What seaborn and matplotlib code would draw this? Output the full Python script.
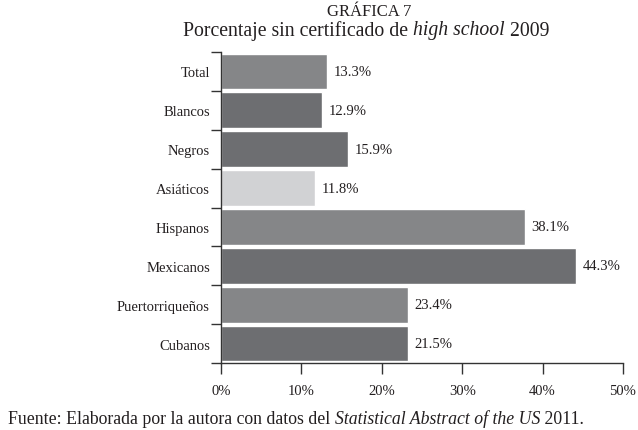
import matplotlib
matplotlib.use("Agg")
import matplotlib.pyplot as plt
import pandas as pd
import seaborn as sns

# Data
categories = ['Total', 'Blancos', 'Negros', 'Asiáticos', 'Hispanos',
              'Mexicanos', 'Puertorriqueños', 'Cubanos']
bar_values = [13.2, 12.6, 15.8, 11.7, 37.8, 44.2, 23.3, 23.3]
value_labels = ['13.3%', '12.9%', '15.9%', '11.8%', '38.1%', '44.3%', '23.4%', '21.5%']
bar_colors = ['#858688', '#6d6e71', '#6d6e71', '#d1d2d4',
              '#858688', '#6d6e71', '#858688', '#6d6e71']
x_ticks = [0, 10, 20, 30, 40, 50]

df = pd.DataFrame({'cat': categories, 'value': bar_values})

sns.set_theme(style='ticks')
plt.rcParams['font.family'] = ['Liberation Serif', 'DejaVu Serif']
text_color = '#231f20'
line_color = '#333333'

fig = plt.figure(figsize=(6.38, 4.31), dpi=100)
ax = fig.add_axes([221 / 638, 1 - 364 / 431, (623 - 221) / 638, (364 - 53) / 431])

sns.barplot(data=df, x='value', y='cat', hue='cat', orient='h',
            palette=dict(zip(categories, bar_colors)), width=0.92,
            legend=False, ax=ax, saturation=1)

ax.set_xlim(0, 50)
ax.set_ylim(len(categories) - 0.5, -0.5)
ax.set_xticks(x_ticks)
ax.set_xticklabels([f'{t}%' for t in x_ticks], fontsize=10.5, color=text_color)
ax.set_xlabel('')
ax.set_ylabel('')

# category names centred on bars, ticks at the boundaries between them
ax.set_yticks([i - 0.5 for i in range(len(categories) + 1)])
ax.set_yticklabels([])
ax.set_yticks(range(len(categories)), minor=True)
ax.set_yticklabels(categories, minor=True, fontsize=10.5, color=text_color)
ax.tick_params(axis='y', which='minor', length=0, pad=8)
ax.tick_params(axis='y', which='major', length=7, width=1, color=line_color)
ax.tick_params(axis='x', length=8, width=1, color=line_color, pad=7)

for s in ['top', 'right']:
    ax.spines[s].set_visible(False)
for s in ['left', 'bottom']:
    ax.spines[s].set_color(line_color)
    ax.spines[s].set_linewidth(1)

for i, (v, lab) in enumerate(zip(bar_values, value_labels)):
    ax.annotate(lab, (v, i), xytext=(4.5, 0), textcoords='offset points',
                va='center', ha='left', fontsize=10.5, color=text_color)


def draw_runs(y_px, runs, size, x_px=None, center=None):
    # draw a line of text made of several style runs (normal / italic)
    fig.canvas.draw()
    r = fig.canvas.get_renderer()
    W, H = fig.bbox.width, fig.bbox.height
    items, widths = [], []
    for txt, style in runs:
        t = fig.text(0, 1 - y_px / H, txt, fontsize=size, style=style,
                     va='center', ha='left', color=text_color)
        items.append(t)
        widths.append(t.get_window_extent(renderer=r).width)
    total = sum(widths)
    x = center - total / 2 if x_px is None else x_px
    for t, w in zip(items, widths):
        t.set_x(x / W)
        x += w


draw_runs(12, [('GRÁFICA 7', 'normal')], 12, center=369)
draw_runs(31, [('Porcentaje sin certificado de ', 'normal'),
               ('high school', 'italic'), (' 2009', 'normal')], 14.2, center=366)
draw_runs(419, [('Fuente: Elaborada por la autora con datos del ', 'normal'),
                ('Statistical Abstract of the US', 'italic'),
                (' 2011.', 'normal')], 12.8, x_px=8)

fig.savefig('out.png', dpi=100)
